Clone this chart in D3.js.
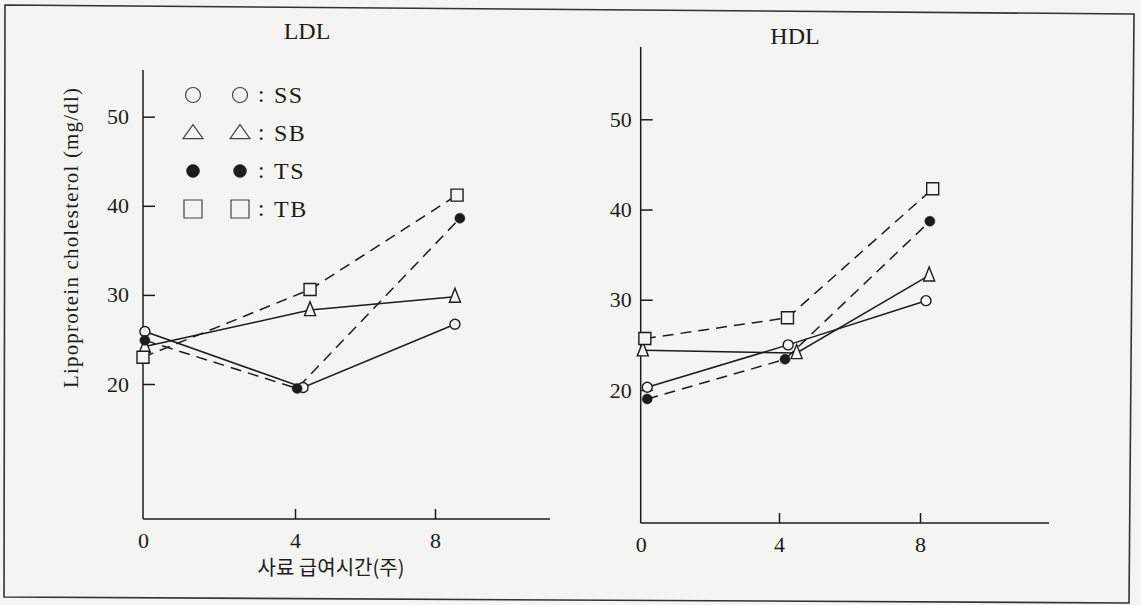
<!DOCTYPE html>
<html>
<head>
<meta charset="utf-8">
<script src="https://cdn.jsdelivr.net/npm/d3@7"></script>
<style>
html,body{margin:0;padding:0;background:#f4f4f2;}
svg{display:block;}
</style>
</head>
<body>
<svg id="chart" width="1141" height="605"></svg>
<script>
// ---- data ----
const weekTicks = [0, 4, 8];
const seriesNames = ["SS", "SB", "TS", "TB"];
const yTicks = [20, 30, 40, 50];

// LDL (mg/dl) at weeks 0, 4, 8 ; plotted week positions as drawn
const ldlSS = [25.9, 19.6, 26.7];
const ldlSB = [24.2, 28.3, 29.8];
const ldlTS = [24.9, 19.5, 38.6];
const ldlTB = [23.0, 30.6, 41.2];
const ldlSSWeeks = [0.05, 4.23, 8.57];
const ldlSBWeeks = [0.05, 4.43, 8.57];
const ldlTSWeeks = [0.05, 4.06, 8.71];
const ldlTBWeeks = [0.0, 4.43, 8.63];

// HDL (mg/dl)
const hdlSS = [20.3, 25.0, 29.9];
const hdlSB = [24.4, 24.1, 32.7];
const hdlTS = [19.0, 23.4, 38.7];
const hdlTB = [25.7, 28.0, 42.3];
const hdlSSWeeks = [0.19, 4.26, 8.17];
const hdlSBWeeks = [0.06, 4.50, 8.26];
const hdlTSWeeks = [0.19, 4.17, 8.28];
const hdlTBWeeks = [0.12, 4.24, 8.36];

const xTitle = "사료 급여시간(주)";
const yTitle = "Lipoprotein cholesterol (mg/dl)";

// ---- styling ----
const ink = "#1c1c1c";
const bg = "#f4f4f2";
const serif = "'Liberation Serif', 'DejaVu Serif', serif";
const styleOf = {SS: {marker: "circle", dash: null},
                 SB: {marker: "triangle", dash: null},
                 TS: {marker: "dot", dash: "11,7"},
                 TB: {marker: "square", dash: "11,7"}};

const svg = d3.select("#chart");

// frame (scanned page border, slightly skewed)
svg.append("path")
  .attr("d", "M5,5 L1134,14 L1129,603 L4,597 Z")
  .attr("fill", "none").attr("stroke", "#333").attr("stroke-width", 1.6);

function markerPath(kind, cx, cy, s) {
  if (kind === "triangle") {
    const w = s.tw, h = s.th;
    return `M${cx},${cy - h * 0.6} L${cx + w / 2},${cy + h * 0.4} L${cx - w / 2},${cy + h * 0.4} Z`;
  }
  if (kind === "square") {
    const a = s.sq;
    return `M${cx - a / 2},${cy - a / 2} h${a} v${a} h${-a} Z`;
  }
  return null;
}

function drawMarker(g, kind, cx, cy, s, sw, col) {
  if (kind === "circle") {
    g.append("circle").attr("cx", cx).attr("cy", cy).attr("r", s.r)
      .attr("fill", bg).attr("stroke", col).attr("stroke-width", sw);
  } else if (kind === "dot") {
    g.append("circle").attr("cx", cx).attr("cy", cy).attr("r", s.rd)
      .attr("fill", ink).attr("stroke", ink).attr("stroke-width", 0.5);
  } else {
    g.append("path").attr("d", markerPath(kind, cx, cy, s))
      .attr("fill", bg).attr("stroke", col).attr("stroke-width", sw);
  }
}

const dataSize = {r: 5, rd: 5, tw: 11, th: 14, sq: 12};
const legendSize = {r: 7.5, rd: 6.5, tw: 20, th: 14, sq: 18};

const panels = [
  {title: "LDL", titleX: 307, titleY: 39,
   axisX: 143, axisTop: 70, axisBottom: 519, xEnd: 550,
   xRange: [143, 295, 435], yRange: [384, 116.7], labelPad: 14,
   series: {SS: [ldlSS, ldlSSWeeks], SB: [ldlSB, ldlSBWeeks], TS: [ldlTS, ldlTSWeeks], TB: [ldlTB, ldlTBWeeks]},
   legend: true},
  {title: "HDL", titleX: 795, titleY: 44,
   axisX: 640.7, axisTop: 47, axisBottom: 523, xEnd: 1049,
   xRange: [640.7, 779, 920], yRange: [390, 119.3], labelPad: 9,
   series: {SS: [hdlSS, hdlSSWeeks], SB: [hdlSB, hdlSBWeeks], TS: [hdlTS, hdlTSWeeks], TB: [hdlTB, hdlTBWeeks]},
   legend: false}
];

panels.forEach(p => {
  const g = svg.append("g");
  const x = d3.scaleLinear().domain(weekTicks).range(p.xRange);
  const y = d3.scaleLinear().domain([20, 50]).range(p.yRange);

  // title
  g.append("text").attr("x", p.titleX).attr("y", p.titleY)
    .attr("text-anchor", "middle").attr("font-family", serif).attr("font-size", 24)
    .attr("fill", ink).text(p.title);

  // axis lines
  g.append("line").attr("x1", p.axisX).attr("x2", p.axisX)
    .attr("y1", p.axisTop).attr("y2", p.axisBottom)
    .attr("stroke", ink).attr("stroke-width", 1.5);
  g.append("line").attr("x1", p.axisX).attr("x2", p.xEnd)
    .attr("y1", p.axisBottom).attr("y2", p.axisBottom)
    .attr("stroke", ink).attr("stroke-width", 1.5);

  // y axis ticks (inward) and labels
  const ya = g.append("g").attr("transform", `translate(${p.axisX},0)`)
    .call(d3.axisLeft(y).tickValues(yTicks).tickSizeInner(-12).tickSizeOuter(0)
      .tickPadding(p.labelPad).tickFormat(d3.format("d")));
  ya.select(".domain").remove();
  ya.selectAll("line").attr("stroke", ink).attr("stroke-width", 1.5);
  ya.selectAll("text").attr("font-family", serif).attr("font-size", 22).attr("fill", ink);

  // x axis ticks (inward) and labels
  const xa = g.append("g").attr("transform", `translate(0,${p.axisBottom})`)
    .call(d3.axisBottom(x).tickValues(weekTicks).tickSizeInner(-10).tickSizeOuter(0)
      .tickPadding(13).tickFormat(d3.format("d")));
  xa.select(".domain").remove();
  xa.selectAll("line").attr("stroke", ink).attr("stroke-width", 1.5)
    .filter(d => d === 0).remove();
  xa.selectAll("text").attr("font-family", serif).attr("font-size", 22).attr("fill", ink);

  // lines
  const line = d3.line().x(d => x(d[0])).y(d => y(d[1]));
  seriesNames.forEach(s => {
    const [vals, wks] = p.series[s];
    const pts = vals.map((v, i) => [wks[i], v]);
    g.append("path").datum(pts).attr("d", line)
      .attr("fill", "none").attr("stroke", ink).attr("stroke-width", 1.5)
      .attr("stroke-dasharray", styleOf[s].dash);
  });
  // markers
  seriesNames.forEach(s => {
    const [vals, wks] = p.series[s];
    vals.forEach((v, i) => drawMarker(g, styleOf[s].marker, x(wks[i]), y(v), dataSize, 1.4, ink));
  });

  if (p.legend) {
    const rowY = d3.scalePoint().domain(seriesNames).range([95, 209]);
    seriesNames.forEach(s => {
      const cy = rowY(s);
      drawMarker(g, styleOf[s].marker, 193, cy, legendSize, 1.2, "#444");
      drawMarker(g, styleOf[s].marker, 240, cy, legendSize, 1.2, "#444");
      g.append("text").attr("x", 258).attr("y", cy + 7).attr("font-family", serif)
        .attr("font-size", 23).attr("fill", ink).text(":");
      g.append("text").attr("x", 274).attr("y", cy + 8).attr("font-family", serif)
        .attr("font-size", 24).attr("letter-spacing", 1.5).attr("fill", ink).text(s);
    });
  }
});

// axis titles
svg.append("text").attr("x", 331).attr("y", 575).attr("text-anchor", "middle")
  .attr("font-family", "'Noto Sans CJK KR', sans-serif").attr("font-size", 20)
  .attr("fill", ink).text(xTitle);

svg.append("text").attr("transform", "translate(78,238) rotate(-90)")
  .attr("text-anchor", "middle").attr("font-family", serif).attr("font-size", 21)
  .attr("textLength", 300).attr("lengthAdjust", "spacing")
  .attr("fill", ink).text(yTitle);
</script>
</body>
</html>
